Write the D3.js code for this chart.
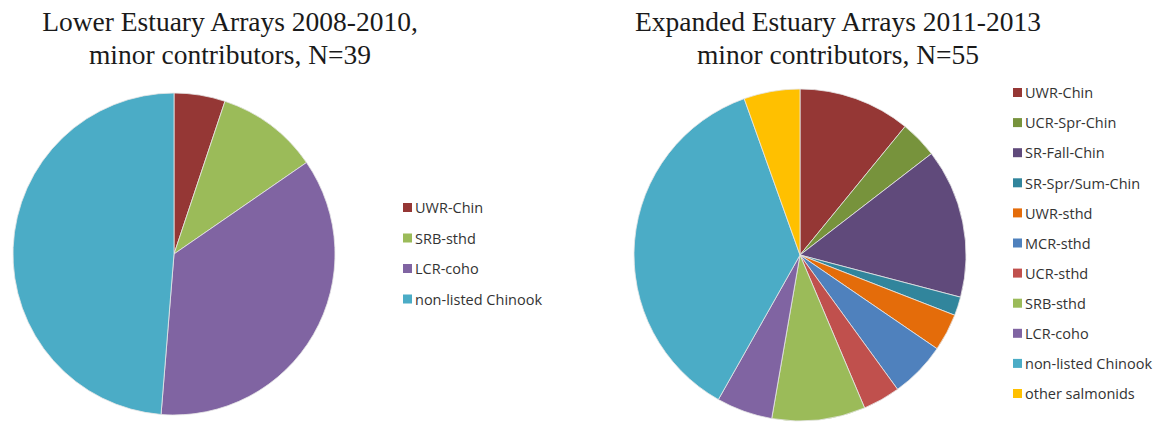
<!DOCTYPE html>
<html>
<head>
<meta charset="utf-8">
<script src="https://cdn.jsdelivr.net/npm/d3@7"></script>
<style>
  body { margin: 0; background: #fff; }
  svg { display: block; }
</style>
</head>
<body>
<svg id="chart" width="1164" height="423"></svg>
<script>
// Lower Estuary Arrays 2008-2010 (N=39)
const lowerCategories = ["UWR-Chin", "SRB-sthd", "LCR-coho", "non-listed Chinook"];
const lowerValues = [2, 4, 14, 19];
const lowerColors = ["#953735", "#9BBB59", "#8064A2", "#4BACC6"];
const lowerTitle = ["Lower Estuary Arrays 2008-2010,", "minor contributors, N=39"];

// Expanded Estuary Arrays 2011-2013 (N=55)
const expandedCategories = ["UWR-Chin", "UCR-Spr-Chin", "SR-Fall-Chin", "SR-Spr/Sum-Chin",
  "UWR-sthd", "MCR-sthd", "UCR-sthd", "SRB-sthd", "LCR-coho", "non-listed Chinook", "other salmonids"];
const expandedValues = [6, 2, 8, 1, 2, 3, 2, 5, 3, 20, 3];
const expandedColors = ["#953735", "#77933C", "#604A7B", "#31859C", "#E46C0A", "#4F81BD",
  "#C0504D", "#9BBB59", "#8064A2", "#4BACC6", "#FFC000"];
const expandedTitle = ["Expanded Estuary Arrays 2011-2013", "minor contributors, N=55"];

const svg = d3.select("#chart");

function drawPie(cfg) {
  const g = svg.append("g");
  const color = d3.scaleOrdinal().domain(cfg.categories).range(cfg.colors);
  const pie = d3.pie().sort(null).value(d => d.value);
  const arc = d3.arc().innerRadius(0).outerRadius(cfg.r);
  const data = cfg.categories.map((c, i) => ({ name: c, value: cfg.values[i] }));

  g.append("g")
    .attr("transform", `translate(${cfg.cx},${cfg.cy})`)
    .selectAll("path")
    .data(pie(data))
    .join("path")
    .attr("d", arc)
    .attr("fill", d => color(d.data.name))
    .attr("stroke", "#e6e6e6")
    .attr("stroke-width", 0.8);

  // title
  g.append("text")
    .attr("x", cfg.titleX)
    .attr("y", 31)
    .attr("text-anchor", "middle")
    .style("font-family", "'Liberation Serif', 'Times New Roman', serif")
    .style("font-size", "27.5px")
    .attr("fill", "#1a1a1a")
    .selectAll("tspan")
    .data(cfg.title)
    .join("tspan")
    .attr("x", cfg.titleX)
    .attr("dy", (d, i) => i === 0 ? 0 : 32.5)
    .text(d => d);

  // legend
  const leg = g.append("g")
    .selectAll("g")
    .data(cfg.categories)
    .join("g")
    .attr("transform", (d, i) => `translate(${cfg.legX},${cfg.legY + i * cfg.legStep})`);
  leg.append("rect")
    .attr("x", 0).attr("y", -5)
    .attr("width", 9).attr("height", 9)
    .attr("fill", d => color(d));
  leg.append("text")
    .attr("x", 12)
    .attr("y", 0)
    .attr("dy", "0.36em")
    .style("font-family", "'Open Sans', sans-serif")
    .style("font-size", "14.5px")
    .attr("fill", "#333")
    .text(d => d);
}

drawPie({
  categories: lowerCategories, values: lowerValues, colors: lowerColors, title: lowerTitle,
  cx: 174, cy: 254, r: 161, titleX: 230,
  legX: 403, legY: 208, legStep: 30.5
});

drawPie({
  categories: expandedCategories, values: expandedValues, colors: expandedColors, title: expandedTitle,
  cx: 800, cy: 255, r: 166, titleX: 838,
  legX: 1013, legY: 93, legStep: 30.1
});
</script>
</body>
</html>
